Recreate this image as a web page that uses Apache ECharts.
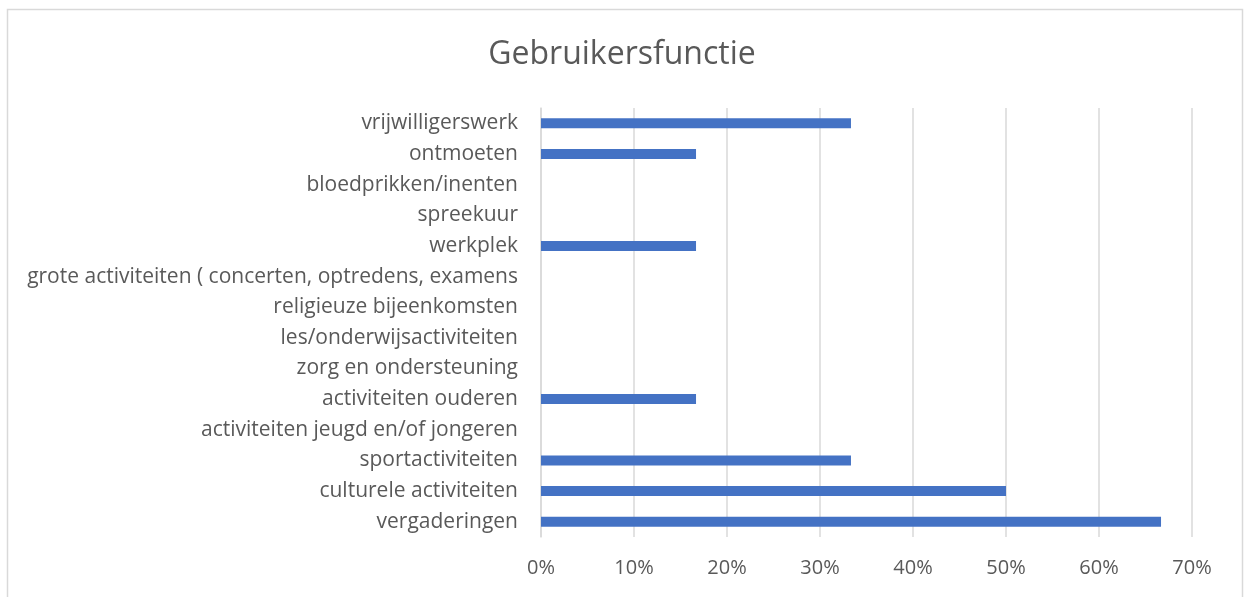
<!DOCTYPE html>
<html>
<head>
<meta charset="utf-8">
<script src="https://cdn.jsdelivr.net/npm/echarts@6/dist/echarts.min.js"></script>
<style>
  html, body { margin: 0; padding: 0; background: #fff; }
  #chart { width: 1244px; height: 597px; }
</style>
</head>
<body>
<div id="chart"></div>
<script>
// categories from bottom to top (as the value axis draws them)
const categories = [
  'vergaderingen',
  'culturele activiteiten',
  'sportactiviteiten',
  'activiteiten jeugd en/of jongeren',
  'activiteiten ouderen',
  'zorg en ondersteuning',
  'les/onderwijsactiviteiten',
  'religieuze bijeenkomsten',
  'grote activiteiten ( concerten, optredens, examens',
  'werkplek',
  'spreekuur',
  'bloedprikken/inenten',
  'ontmoeten',
  'vrijwilligerswerk'
];
// percentages
const values = [66.67, 50, 33.33, 0, 16.67, 0, 0, 0, 0, 16.67, 0, 0, 16.67, 33.33];
const tickMax = 70;
const tickStep = 10;

const chart = echarts.init(document.getElementById('chart'));
const font = '"Open Sans", "Noto Sans", sans-serif';

let option = {
  animation: false,
  title: {
    text: 'Gebruikersfunctie',
    left: 'center',
    top: 34,
    textStyle: { fontFamily: font, fontSize: 32, fontWeight: 'normal', color: '#595959' }
  },
  graphic: [{
    type: 'rect',
    shape: { x: 7.5, y: 9.5, width: 1235, height: 600 },
    style: { fill: 'none', stroke: '#d9d9d9', lineWidth: 1.5 },
    silent: true
  }],
  grid: { left: 541, right: 52, top: 108, bottom: 60, containLabel: false },
  xAxis: {
    type: 'value',
    min: 0,
    max: tickMax,
    interval: tickStep,
    axisLine: { show: false },
    axisTick: { show: false },
    splitLine: { lineStyle: { color: '#d9d9d9', width: 1.5 } },
    axisLabel: {
      formatter: '{value}%',
      margin: 21,
      fontFamily: font,
      fontSize: 20,
      color: '#595959'
    }
  },
  yAxis: {
    type: 'category',
    data: categories,
    axisLine: { show: true, lineStyle: { color: '#d9d9d9', width: 1.5 } },
    axisTick: { show: false },
    axisLabel: {
      margin: 23,
      padding: [3, 0, 0, 0],
      fontFamily: font,
      fontSize: 21,
      color: '#595959'
    }
  },
  series: [{
    type: 'bar',
    data: values,
    barWidth: 10,
    itemStyle: { color: '#4472c4' }
  }]
};
chart.setOption(option);
</script>
</body>
</html>
